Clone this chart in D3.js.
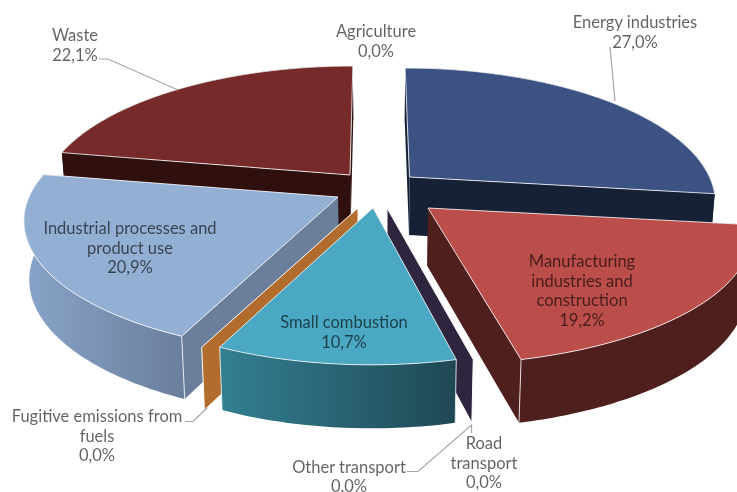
<!DOCTYPE html>
<html><head><meta charset="utf-8">
<script src="https://d3js.org/d3.v7.min.js"></script>
<style>
html,body{margin:0;padding:0;background:#fff;overflow:hidden}
svg{display:block;filter:blur(0.4px)}
text{font-family:Lato,"Open Sans",sans-serif;font-size:16.5px;fill:#000;fill-opacity:.62;text-anchor:middle}
</style></head><body>
<svg id="c" width="737" height="492"></svg>
<script>
// ---- data ----
const categories = ["Energy industries","Manufacturing industries and construction","Other transport","Road transport","Small combustion","Fugitive emissions from fuels","Industrial processes and product use","Waste","Agriculture"];
const values = [27.0,19.2,0.0,0.0,10.7,0.0,20.9,22.1,0.0];
const labelLines = [["Energy industries"],["Manufacturing","industries and","construction"],["Other transport"],["Road","transport"],["Small combustion"],["Fugitive emissions from","fuels"],["Industrial processes and","product use"],["Waste"],["Agriculture"]];

// ---- style and layout (not data) ----
const topColors  = ["#3b5283","#bb4d4b","none","#30253f","#4aa8c3","#b16c2e","#93afd4","#762b2a","none"];
const sideColors = ["#162136","#4f1f1d","none","#30253f","url(#gSmall)","#b16c2e","url(#gInd)","#30100f","none"];
const wallColors = ["#162136","#4f1f1d","none","#30253f","#2f7587","#b16c2e","#6b7f9b","#30100f","none"];
const apexX = [409.5,428,null,387,373,358,338,350,null];
const apexY = [177,208,null,208,208,208,197,175,null];
const radiusK = [1,1.06,1,1,1,1.03,1.03,1.01,1];
const pullK = [1,0.3,1,1,1,0,0,0.6,1];
const paintOrder = [7,0,1,3,6,5,4];
const labelPos = [[635,28],[582,267],[349,472.5],[484,449],[344,328],[97,422],[130,234],[75,41],[376,37]];
const leaders = [[[610,47],[615,101]],[[99,59],[108,59],[178,90]],[[185,421.5],[193,421.5],[207,408]],[[407,471.5],[418,471.5],[471.5,425],[471.5,433]]];

const W = 737, H = 492, RX = 300, RY = 128.6, P = 0.18, VX = 381, DEPTH = 58, BOTTOM_K = 0.985;
const pct = d3.formatLocale({decimal:",",thousands:" ",grouping:[3],currency:["",""]}).format(".1f");

const svg = d3.select("#c");
const defs = svg.append("defs");
function grad(id,x1,x2,c1,c2){
  const g = defs.append("linearGradient").attr("id",id).attr("gradientUnits","userSpaceOnUse")
    .attr("x1",x1).attr("x2",x2).attr("y1",0).attr("y2",0);
  g.append("stop").attr("offset",0).attr("stop-color",c1);
  g.append("stop").attr("offset",1).attr("stop-color",c2);
}
grad("gSmall",222,456,"#337f92","#1f4854");
grad("gInd",28,187,"#88a3c8","#6a7e9b");

const arcs = d3.pie().sort(null).startAngle(0).endAngle(2*Math.PI)(values);
const line = d3.line();

function upper(i,t,r=1){
  const u = Math.sin(t)*r, v = Math.cos(t)*r, s = 1/(1+P*v);
  return {x: apexX[i]+RX*radiusK[i]*u*s+(VX-apexX[i])*pullK[i]*(1-s), y: apexY[i]-RY*v*s, s};
}
function lower(q){
  return {x: VX+(q.x-VX)*BOTTOM_K, y: q.y+DEPTH*(1+0.43*(q.s-1))};
}
const xy = q => [q.x,q.y];

paintOrder.forEach(i=>{
  const a = arcs[i], g = svg.append("g");
  const n = Math.max(2,Math.ceil((a.endAngle-a.startAngle)*60));
  const ts = d3.range(n+1).map(k=>a.startAngle+(a.endAngle-a.startAngle)*k/n);
  const apex = upper(i,0,0);
  const wall = t => {
    const b = upper(i,t);
    g.append("path").attr("d",line([xy(apex),xy(b),xy(lower(b)),xy(lower(apex))])+"Z").attr("fill",wallColors[i]);
  };
  if(values[i]===0){
    // a zero share shows only as a wall
    const b = upper(i,a.startAngle);
    g.append("path").attr("d",line([xy(apex),xy(b),xy(lower(b)),xy(lower(apex))])+"Z")
      .attr("fill",wallColors[i]).attr("stroke","#fff").attr("stroke-width",1);
    return;
  }
  wall(a.startAngle); wall(a.endAngle);
  const rimTop = ts.map(t=>upper(i,t));
  const rim = rimTop.map(xy).concat(rimTop.map(lower).map(xy).reverse());
  g.append("path").attr("d",line(rim)+"Z").attr("fill",sideColors[i]);
  [a.startAngle,a.endAngle].forEach(t=>{
    const b = upper(i,t);
    if(b.s>1.1) g.append("path").attr("d",line([xy(b),xy(lower(b))])).attr("stroke","#fff").attr("stroke-opacity",.8).attr("fill","none");
  });
  g.append("path").attr("d",line([xy(apex)].concat(rimTop.map(xy)))+"Z")
    .attr("fill",topColors[i]).attr("stroke","#fff").attr("stroke-opacity",.8).attr("stroke-width",1);
});

leaders.forEach(p=>svg.append("path").attr("d",line(p)).attr("fill","none").attr("stroke","#a6a6a6").attr("stroke-width",1.2));

categories.forEach((c,i)=>{
  const t = svg.append("text").attr("transform",`translate(${labelPos[i][0]},${labelPos[i][1]})`);
  labelLines[i].concat([pct(values[i])+"%"]).forEach((l,k)=>t.append("tspan").attr("x",0).attr("y",k*19.7).text(l));
});
</script></body></html>
